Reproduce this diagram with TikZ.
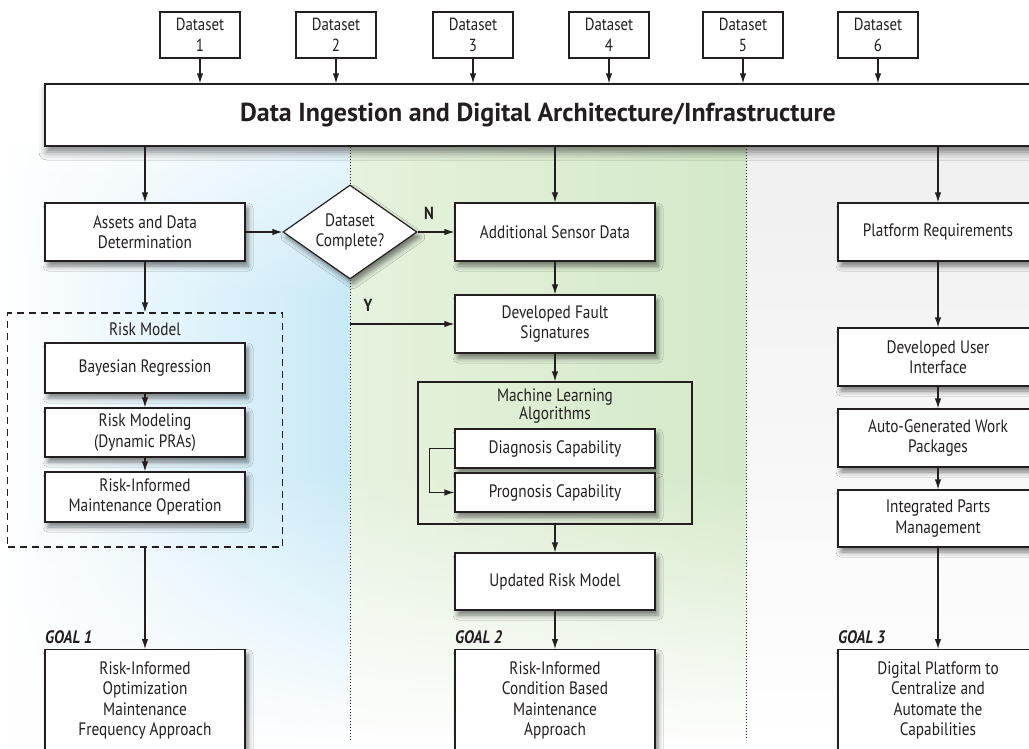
\documentclass[tikz,border=0pt]{standalone}
\usepackage{fontspec}
\setmainfont{PT Sans}[FakeStretch=0.85]
\newfontfamily\bannerfont{PT Sans}
\usetikzlibrary{arrows.meta,positioning,shapes.geometric,shadows.blur,fadings}

\definecolor{lineColor}{RGB}{35,31,32}
\definecolor{blueBg}{RGB}{200,233,247}
\definecolor{greenBg}{RGB}{212,233,200}
\definecolor{grayBg}{RGB}{220,220,220}

\tikzset{
	stepBox/.style={draw=lineColor, fill=white, text=lineColor, line width=1.2pt,
		minimum width=200pt, minimum height=58pt, align=center, inner sep=2pt,
		font=\fontsize{18}{20.5}\selectfont,
		blur shadow={shadow xshift=3pt, shadow yshift=-5pt, shadow blur radius=5pt, shadow opacity=50}},
	dataBox/.style={draw=lineColor, fill=white, text=lineColor, line width=1.2pt,
		minimum width=80pt, minimum height=46pt, align=center, inner sep=1pt,
		font=\fontsize{17.5}{21}\selectfont},
	flow/.style={-{Latex[length=10pt,width=6.5pt]}, line width=1.2pt, draw=lineColor},
	divider/.style={dotted, line width=1pt, draw=lineColor},
	goalLabel/.style={anchor=base west, inner sep=0pt, text=lineColor,
		font=\fontsize{18}{20}\selectfont\bfseries\itshape},
	yesNo/.style={inner sep=0pt, text=lineColor, font=\fontsize{17.5}{20}\selectfont\bfseries},
}

\begin{document}
\begin{tikzpicture}[x=1pt, y=-1pt]
	\useasboundingbox (0,0) rectangle (1029,749);
	\clip (0,0) rectangle (1029,749);
	% column backgrounds
	\shade[left color=white, right color=blueBg] (0,146) rectangle (350,749);
	\shade[left color=greenBg!60!white, right color=greenBg] (350,146) rectangle (746,749);
	\shade[top color=grayBg!45!white, middle color=grayBg, bottom color=white] (746,146) rectangle (1029,749);
	\fill[white, path fading=north] (0,470) rectangle (746,749);
	\fill[white, opacity=0.6, path fading=south] (0,146) rectangle (350,300);

	% banner and datasets
	\node[draw=lineColor, fill=white, text=lineColor, line width=1.2pt, minimum width=986pt, minimum height=62pt,
		font=\bannerfont\fontsize{26}{30}\selectfont\bfseries,
		blur shadow={shadow xshift=2pt, shadow yshift=-6pt, shadow blur radius=8pt, shadow opacity=50}]
		(ingest) at (538,115) {Data Ingestion and Digital Architecture/Infrastructure};
	\foreach \i/\x in {1/200,2/336,3/473,4/609,5/743,6/878}{
		\node[dataBox] (ds\i) at (\x,35) {Dataset\\\i};
		\draw[flow] (ds\i) -- (ds\i |- ingest.north);
	}

	% goal 1 column
	\node[stepBox] (assets) at (145,232) {Assets and Data\\Determination};
	\node[draw=lineColor, fill=white, text=lineColor, line width=1.2pt, shape=diamond, aspect=1.43,
		minimum width=134pt, minimum height=94pt, inner sep=0pt, align=center,
		font=\fontsize{18}{20.5}\selectfont,
		blur shadow={shadow xshift=3pt, shadow yshift=-5pt, shadow blur radius=5pt, shadow opacity=50}]
		(dec) at (350,232) {Dataset\\Complete?};
	\node[draw=lineColor, dash pattern=on 7pt off 5pt, line width=1.2pt, minimum width=275pt, minimum height=234pt]
		(riskModel) at (145,430) {};
	\node[text=lineColor, font=\fontsize{18}{20.5}\selectfont] (riskTitle) at (145,329) {Risk Model};
	\node[stepBox, minimum height=50pt] (bayes) at (145,368) {Bayesian Regression};
	\node[stepBox, minimum height=49pt] (riskModeling) at (145,432.5) {Risk Modeling\\(Dynamic PRAs)};
	\node[stepBox, minimum height=50pt] (riskOps) at (145,497) {Risk-Informed\\Maintenance Operation};
	\node[goalLabel] (goalOneLbl) at (45,643) {GOAL 1};
	\node[stepBox, minimum height=102pt, anchor=north] (goalOne) at (145,649)
		{Risk-Informed\\Optimization\\Maintenance\\Frequency Approach};

	% goal 2 column
	\node[stepBox] (sensor) at (555,232) {Additional Sensor Data};
	\node[stepBox] (fault) at (555,324) {Developed Fault\\Signatures};
	\node[draw=lineColor, line width=1.2pt, minimum width=274pt, minimum height=142pt] (mlBox) at (555,453) {};
	\node[text=lineColor, align=center, font=\fontsize{18}{18}\selectfont] (mlTitle) at (555,406) {Machine Learning\\Algorithms};
	\node[stepBox, minimum height=39pt] (diag) at (555,448.5) {Diagnosis Capability};
	\node[stepBox, minimum height=39pt] (prog) at (555,492.5) {Prognosis Capability};
	\node[stepBox, minimum height=57pt] (updated) at (555,581.5) {Updated Risk Model};
	\node[goalLabel] (goalTwoLbl) at (455,643) {GOAL 2};
	\node[stepBox, minimum height=102pt, anchor=north] (goalTwo) at (555,649)
		{Risk-Informed\\Condition Based\\Maintenance\\Approach};

	% goal 3 column
	\node[stepBox] (platform) at (938,232) {Platform Requirements};
	\node[stepBox] (userUI) at (938,357) {Developed User\\Interface};
	\node[stepBox] (workPkg) at (938,438) {Auto-Generated Work\\Packages};
	\node[stepBox, minimum height=57pt] (parts) at (938,518.5) {Integrated Parts\\Management};
	\node[goalLabel] (goalThreeLbl) at (838,643) {GOAL 3};
	\node[stepBox, minimum height=102pt, anchor=north] (goalThree) at (938,649)
		{Digital Platform to\\Centralize and\\Automate the\\Capabilities};

	% dividers
	\draw[divider] (ingest.south -| dec) -- (dec.north);
	\draw[divider] (dec.south) -- (350,740);
	\draw[divider] (746,146) -- (746,740);

	% connectors
	\draw[flow] (ingest.south -| assets) -- (assets);
	\draw[flow] (ingest.south -| sensor) -- (sensor);
	\draw[flow] (ingest.south -| platform) -- (platform);
	\draw[flow] (assets) -- (dec);
	\draw[flow] (dec) -- (sensor);
	\node[yesNo] (lblN) at (429,213) {N};
	\draw[flow] (dec.south |- fault.west) -- (fault.west);
	\node[yesNo] (lblY) at (368,305) {Y};
	\draw[flow] (assets) -- (riskModel);
	\draw[flow] (bayes) -- (riskModeling);
	\draw[flow] (riskModeling) -- (riskOps);
	\draw[flow] (riskModel) -- (goalOne);
	\draw[flow] (sensor) -- (fault);
	\draw[flow] (fault) -- (mlBox);
	\draw[flow] (diag.west) -- ++(-25,0) |- (prog.west);
	\draw[flow] (mlBox) -- (updated);
	\draw[flow] (updated) -- (goalTwo);
	\draw[flow] (platform) -- (userUI);
	\draw[flow] (userUI) -- (workPkg);
	\draw[flow] (workPkg) -- (parts);
	\draw[flow] (parts) -- (goalThree);
\end{tikzpicture}
\end{document}
